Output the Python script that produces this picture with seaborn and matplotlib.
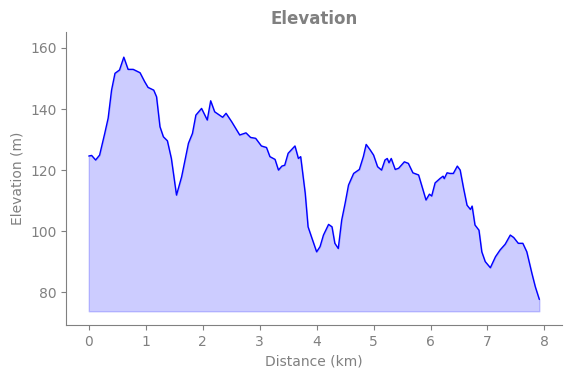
import numpy as np
import pandas as pd
import seaborn as sns
import matplotlib
matplotlib.use("Agg")
import matplotlib.pyplot as plt

# distance along the route (km) and elevation (m)
distance = [0.00, 0.05, 0.12, 0.19, 0.28, 0.34, 0.40, 0.46, 0.54, 0.615, 0.69, 0.78,
            0.90, 0.98, 1.04, 1.14, 1.19, 1.25, 1.31, 1.38, 1.45, 1.54, 1.63, 1.75,
            1.82, 1.88, 1.98, 2.08, 2.14, 2.21, 2.35, 2.41, 2.51, 2.65, 2.76, 2.84,
            2.93, 3.03, 3.12, 3.18, 3.27, 3.33, 3.39, 3.44, 3.50, 3.62, 3.68, 3.72,
            3.80, 3.85, 3.91, 4.00, 4.06, 4.12, 4.21, 4.27, 4.32, 4.38, 4.44, 4.50,
            4.56, 4.65, 4.75, 4.82, 4.87, 4.94, 5.00, 5.07, 5.14, 5.20, 5.24, 5.27,
            5.31, 5.38, 5.44, 5.54, 5.61, 5.69, 5.79, 5.86, 5.92, 5.98, 6.02, 6.08,
            6.17, 6.22, 6.24, 6.29, 6.34, 6.40, 6.47, 6.52, 6.58, 6.64, 6.70, 6.73,
            6.78, 6.85, 6.90, 6.96, 7.05, 7.14, 7.22, 7.31, 7.40, 7.46, 7.54, 7.62,
            7.69, 7.78, 7.84, 7.91]
elevation = [124.6, 124.8, 123.3, 124.9, 132.0, 137.0, 146.2, 151.7, 152.8, 157.0, 153.0, 153.0,
             151.9, 149.0, 147.1, 146.2, 144.0, 134.2, 130.9, 129.6, 123.8, 111.8, 117.8, 128.8,
             132.0, 138.0, 140.2, 136.4, 142.7, 139.1, 137.3, 138.6, 135.8, 131.5, 132.2, 130.7,
             130.4, 127.9, 127.4, 124.4, 123.5, 120.0, 121.3, 121.6, 125.5, 127.9, 123.8, 124.4,
             112.4, 101.4, 98.1, 93.2, 94.9, 98.7, 102.2, 101.4, 96.0, 94.3, 103.6, 109.1,
             115.1, 118.9, 120.2, 124.4, 128.4, 126.6, 124.9, 121.1, 120.0, 123.3, 123.8, 122.4,
             123.8, 120.2, 120.6, 122.7, 122.2, 119.1, 118.4, 114.0, 110.2, 112.1, 111.5, 115.8,
             117.3, 118.0, 117.2, 119.1, 118.9, 118.9, 121.3, 120.0, 114.0, 108.5, 107.1, 108.2,
             102.0, 100.3, 93.2, 90.0, 88.0, 91.6, 93.8, 95.7, 98.7, 97.9, 96.0, 96.0,
             93.2, 86.1, 81.7, 77.6]

df = pd.DataFrame({"Distance": distance, "Elevation": elevation})
base = df["Elevation"].min() * 0.95

grey = "#808080"
sns.set_style("ticks")
plt.rcParams["text.color"] = grey
plt.rcParams["axes.labelcolor"] = grey
plt.rcParams["xtick.color"] = grey
plt.rcParams["ytick.color"] = grey
plt.rcParams["axes.edgecolor"] = grey

fig, ax = plt.subplots(figsize=(5.71, 3.78), dpi=100)
ax.fill_between(df["Distance"], df["Elevation"], base, color="blue", alpha=0.2)
sns.lineplot(data=df, x="Distance", y="Elevation", color="blue", linewidth=1, ax=ax)

ax.set_ylim(69.2, 165.2)
ax.set_xticks(range(0, 9))
ax.set_yticks([80, 100, 120, 140, 160])
ax.set_title("Elevation", fontsize=12, fontweight="bold", color=grey)
ax.set_xlabel("Distance (km)")
ax.set_ylabel("Elevation (m)")
sns.despine()

fig.subplots_adjust(left=0.116, right=0.984, top=0.915, bottom=0.14)
fig.savefig("out.png", dpi=100)
